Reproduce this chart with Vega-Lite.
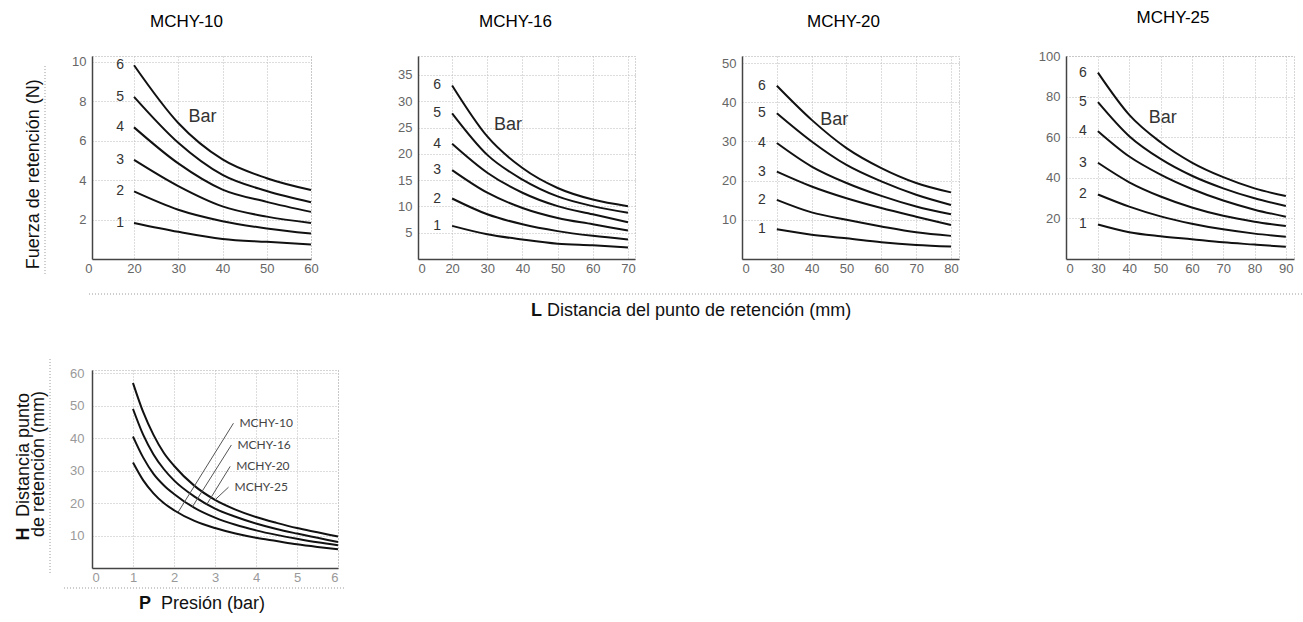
{
 "$schema": "https://vega.github.io/schema/vega-lite/v6.json",
 "background": "white",
 "padding": {"left": 14, "top": 8, "right": 0, "bottom": 0},
 "spacing": 36,
 "datasets": {
  "p10": [
   {"L":20,"F":9.83,"bar":6},{"L":30,"F":6.9,"bar":6},{"L":40,"F":5.05,"bar":6},{"L":50,"F":4.1,"bar":6},{"L":60,"F":3.5,"bar":6},
   {"L":20,"F":8.23,"bar":5},{"L":30,"F":5.9,"bar":5},{"L":40,"F":4.27,"bar":5},{"L":50,"F":3.45,"bar":5},{"L":60,"F":2.88,"bar":5},
   {"L":20,"F":6.68,"bar":4},{"L":30,"F":4.85,"bar":4},{"L":40,"F":3.52,"bar":4},{"L":50,"F":2.9,"bar":4},{"L":60,"F":2.39,"bar":4},
   {"L":20,"F":5.03,"bar":3},{"L":30,"F":3.7,"bar":3},{"L":40,"F":2.67,"bar":3},{"L":50,"F":2.15,"bar":3},{"L":60,"F":1.83,"bar":3},
   {"L":20,"F":3.43,"bar":2},{"L":30,"F":2.5,"bar":2},{"L":40,"F":1.92,"bar":2},{"L":50,"F":1.55,"bar":2},{"L":60,"F":1.29,"bar":2},
   {"L":20,"F":1.83,"bar":1},{"L":30,"F":1.38,"bar":1},{"L":40,"F":1.02,"bar":1},{"L":50,"F":0.87,"bar":1},{"L":60,"F":0.74,"bar":1}
  ],
  "p16": [
   {"L":20,"F":33.0,"bar":6},{"L":30,"F":23.3,"bar":6},{"L":40,"F":17.3,"bar":6},{"L":50,"F":13.5,"bar":6},{"L":60,"F":11.3,"bar":6},{"L":70,"F":10.05,"bar":6},
   {"L":20,"F":27.7,"bar":5},{"L":30,"F":19.8,"bar":5},{"L":40,"F":15.1,"bar":5},{"L":50,"F":11.9,"bar":5},{"L":60,"F":10.05,"bar":5},{"L":70,"F":8.8,"bar":5},
   {"L":20,"F":21.9,"bar":4},{"L":30,"F":16.4,"bar":4},{"L":40,"F":12.6,"bar":4},{"L":50,"F":10.05,"bar":4},{"L":60,"F":8.5,"bar":4},{"L":70,"F":7.0,"bar":4},
   {"L":20,"F":16.9,"bar":3},{"L":30,"F":12.6,"bar":3},{"L":40,"F":9.7,"bar":3},{"L":50,"F":7.8,"bar":3},{"L":60,"F":6.6,"bar":3},{"L":70,"F":5.4,"bar":3},
   {"L":20,"F":11.5,"bar":2},{"L":30,"F":8.5,"bar":2},{"L":40,"F":6.6,"bar":2},{"L":50,"F":5.3,"bar":2},{"L":60,"F":4.4,"bar":2},{"L":70,"F":3.7,"bar":2},
   {"L":20,"F":6.3,"bar":1},{"L":30,"F":4.7,"bar":1},{"L":40,"F":3.7,"bar":1},{"L":50,"F":2.9,"bar":1},{"L":60,"F":2.6,"bar":1},{"L":70,"F":2.2,"bar":1}
  ],
  "p20": [
   {"L":30,"F":44.2,"bar":6},{"L":40,"F":35.5,"bar":6},{"L":50,"F":28.3,"bar":6},{"L":60,"F":23.2,"bar":6},{"L":70,"F":19.4,"bar":6},{"L":80,"F":17.0,"bar":6},
   {"L":30,"F":37.2,"bar":5},{"L":40,"F":30.0,"bar":5},{"L":50,"F":24.0,"bar":5},{"L":60,"F":19.8,"bar":5},{"L":70,"F":16.4,"bar":5},{"L":80,"F":13.8,"bar":5},
   {"L":30,"F":29.6,"bar":4},{"L":40,"F":23.6,"bar":4},{"L":50,"F":19.4,"bar":4},{"L":60,"F":16.1,"bar":4},{"L":70,"F":13.4,"bar":4},{"L":80,"F":11.4,"bar":4},
   {"L":30,"F":22.3,"bar":3},{"L":40,"F":18.5,"bar":3},{"L":50,"F":15.5,"bar":3},{"L":60,"F":13.0,"bar":3},{"L":70,"F":10.8,"bar":3},{"L":80,"F":8.7,"bar":3},
   {"L":30,"F":15.1,"bar":2},{"L":40,"F":11.9,"bar":2},{"L":50,"F":10.0,"bar":2},{"L":60,"F":8.3,"bar":2},{"L":70,"F":6.8,"bar":2},{"L":80,"F":5.9,"bar":2},
   {"L":30,"F":7.6,"bar":1},{"L":40,"F":6.2,"bar":1},{"L":50,"F":5.3,"bar":1},{"L":60,"F":4.3,"bar":1},{"L":70,"F":3.6,"bar":1},{"L":80,"F":3.2,"bar":1}
  ],
  "p25": [
   {"L":30,"F":91.8,"bar":6},{"L":40,"F":71.0,"bar":6},{"L":50,"F":57.5,"bar":6},{"L":60,"F":47.5,"bar":6},{"L":70,"F":40.3,"bar":6},{"L":80,"F":34.8,"bar":6},{"L":90,"F":31.0,"bar":6},
   {"L":30,"F":77.3,"bar":5},{"L":40,"F":60.5,"bar":5},{"L":50,"F":49.3,"bar":5},{"L":60,"F":41.0,"bar":5},{"L":70,"F":34.8,"bar":5},{"L":80,"F":29.9,"bar":5},{"L":90,"F":26.1,"bar":5},
   {"L":30,"F":63.0,"bar":4},{"L":40,"F":50.5,"bar":4},{"L":50,"F":41.6,"bar":4},{"L":60,"F":34.5,"bar":4},{"L":70,"F":28.8,"bar":4},{"L":80,"F":24.3,"bar":4},{"L":90,"F":20.8,"bar":4},
   {"L":30,"F":47.4,"bar":3},{"L":40,"F":37.8,"bar":3},{"L":50,"F":30.8,"bar":3},{"L":60,"F":25.4,"bar":3},{"L":70,"F":21.3,"bar":3},{"L":80,"F":18.4,"bar":3},{"L":90,"F":16.2,"bar":3},
   {"L":30,"F":31.8,"bar":2},{"L":40,"F":25.8,"bar":2},{"L":50,"F":21.0,"bar":2},{"L":60,"F":17.4,"bar":2},{"L":70,"F":14.6,"bar":2},{"L":80,"F":12.5,"bar":2},{"L":90,"F":11.0,"bar":2},
   {"L":30,"F":17.0,"bar":1},{"L":40,"F":13.2,"bar":1},{"L":50,"F":11.2,"bar":1},{"L":60,"F":9.7,"bar":1},{"L":70,"F":8.2,"bar":1},{"L":80,"F":7.1,"bar":1},{"L":90,"F":6.0,"bar":1}
  ],
  "pres": [
   {"modelo":"MCHY-10","P":1,"H":32.5},{"modelo":"MCHY-10","P":1.25,"H":27},{"modelo":"MCHY-10","P":1.5,"H":23},{"modelo":"MCHY-10","P":1.75,"H":20},{"modelo":"MCHY-10","P":2,"H":17.8},{"modelo":"MCHY-10","P":2.5,"H":14.5},{"modelo":"MCHY-10","P":3,"H":12.3},{"modelo":"MCHY-10","P":3.5,"H":10.6},{"modelo":"MCHY-10","P":4,"H":9.3},{"modelo":"MCHY-10","P":4.5,"H":8.3},{"modelo":"MCHY-10","P":5,"H":7.3},{"modelo":"MCHY-10","P":5.5,"H":6.5},{"modelo":"MCHY-10","P":6,"H":5.8},
   {"modelo":"MCHY-16","P":1,"H":40.5},{"modelo":"MCHY-16","P":1.25,"H":34},{"modelo":"MCHY-16","P":1.5,"H":29},{"modelo":"MCHY-16","P":1.75,"H":25.5},{"modelo":"MCHY-16","P":2,"H":22.8},{"modelo":"MCHY-16","P":2.5,"H":18.5},{"modelo":"MCHY-16","P":3,"H":15.5},{"modelo":"MCHY-16","P":3.5,"H":13.3},{"modelo":"MCHY-16","P":4,"H":11.6},{"modelo":"MCHY-16","P":4.5,"H":10.2},{"modelo":"MCHY-16","P":5,"H":9},{"modelo":"MCHY-16","P":5.5,"H":7.9},{"modelo":"MCHY-16","P":6,"H":7},
   {"modelo":"MCHY-20","P":1,"H":49},{"modelo":"MCHY-20","P":1.25,"H":41},{"modelo":"MCHY-20","P":1.5,"H":35},{"modelo":"MCHY-20","P":1.75,"H":30.5},{"modelo":"MCHY-20","P":2,"H":27},{"modelo":"MCHY-20","P":2.5,"H":22},{"modelo":"MCHY-20","P":3,"H":18.3},{"modelo":"MCHY-20","P":3.5,"H":15.8},{"modelo":"MCHY-20","P":4,"H":13.7},{"modelo":"MCHY-20","P":4.5,"H":12},{"modelo":"MCHY-20","P":5,"H":10.6},{"modelo":"MCHY-20","P":5.5,"H":9.3},{"modelo":"MCHY-20","P":6,"H":8},
   {"modelo":"MCHY-25","P":1,"H":57},{"modelo":"MCHY-25","P":1.25,"H":48},{"modelo":"MCHY-25","P":1.5,"H":41},{"modelo":"MCHY-25","P":1.75,"H":35.5},{"modelo":"MCHY-25","P":2,"H":31.5},{"modelo":"MCHY-25","P":2.5,"H":25.3},{"modelo":"MCHY-25","P":3,"H":21},{"modelo":"MCHY-25","P":3.5,"H":18},{"modelo":"MCHY-25","P":4,"H":15.7},{"modelo":"MCHY-25","P":4.5,"H":13.9},{"modelo":"MCHY-25","P":5,"H":12.3},{"modelo":"MCHY-25","P":5.5,"H":11},{"modelo":"MCHY-25","P":6,"H":9.7}
  ],
  "leaders": [
   {"modelo":"MCHY-10","P":3.45,"H":44.6,"P2":2.1,"H2":17.2},
   {"modelo":"MCHY-16","P":3.4,"H":37.9,"P2":2.45,"H2":18.9},
   {"modelo":"MCHY-20","P":3.37,"H":31.3,"P2":2.8,"H2":19.6},
   {"modelo":"MCHY-25","P":3.33,"H":24.9,"P2":3.0,"H2":21.0}
  ]
 },
 "vconcat": [
  {
   "bounds": "flush",
   "spacing": 107,
   "hconcat": [
    {
     "width": 219, "height": 203,
     "title": {"text": "MCHY-10", "dx": -15, "offset": 25},
     "data": {"name": "p10"},
     "encoding": {
      "x": {"field": "L", "type": "quantitative", "scale": {"domain": [10.5, 60], "nice": false, "zero": false}, "axis": {"values": [10.5, 20, 30, 40, 50, 60], "labelExpr": "datum.value < 15 ? '0' : datum.label", "labelAlign": {"condition": {"test": "datum.value < 15", "value": "right"}, "value": "center"}, "title": null}},
      "y": {"field": "F", "type": "quantitative", "scale": {"domain": [0, 10.3], "nice": false}, "axis": {"values": [2, 4, 6, 8, 10], "title": null}}
     },
     "layer": [
      {"mark": {"type": "line", "interpolate": "monotone", "color": "#111", "strokeWidth": 2}, "encoding": {"detail": {"field": "bar", "type": "nominal"}}},
      {"transform": [{"filter": "datum.L == 20"}], "mark": {"type": "text", "dx": -14, "fontSize": 14, "color": "#333"}, "encoding": {"text": {"field": "bar", "type": "nominal"}}},
      {"transform": [{"filter": "datum.L == 20 && datum.bar == 6"}], "mark": {"type": "text", "fontSize": 18, "color": "#333"}, "encoding": {"x": {"datum": 35.5}, "y": {"datum": 7.2}, "text": {"value": "Bar"}}},
      {"transform": [{"filter": "datum.L == 20 && datum.bar == 6"}], "mark": {"type": "text", "fontSize": 18, "color": "#111", "angle": 270}, "encoding": {"x": {"datum": -2.61}, "y": {"datum": 4.3}, "text": {"value": "Fuerza de retención (N)"}}},
      {"transform": [{"filter": "datum.L == 20 && datum.bar == 6"}], "mark": {"type": "rule", "color": "#fff", "strokeOpacity": 0}, "encoding": {"x": {"datum": -6.9}, "y": {"datum": 4.5}, "y2": {"datum": 4.6}}},
      {"transform": [{"filter": "datum.L == 20 && datum.bar == 6"}], "mark": {"type": "rule", "strokeDash": [1, 2], "color": "#999"}, "encoding": {"x": {"datum": -0.12}, "y": {"datum": 9.79}, "y2": {"datum": -0.76}}},
      {"transform": [{"filter": "datum.L == 20 && datum.bar == 6"}], "mark": {"type": "rule", "strokeDash": [1, 2], "color": "#999"}, "encoding": {"x": {"datum": 9.82}, "x2": {"datum": 284.0}, "y": {"datum": -1.776}}},
      {"transform": [{"filter": "datum.L == 20 && datum.bar == 6"}], "mark": {"type": "text", "fontSize": 18, "fontWeight": "bold", "color": "#111", "align": "left"}, "encoding": {"x": {"datum": 109.73}, "y": {"datum": -2.64}, "text": {"value": "L"}}},
      {"transform": [{"filter": "datum.L == 20 && datum.bar == 6"}], "mark": {"type": "text", "fontSize": 18, "color": "#111", "align": "left"}, "encoding": {"x": {"datum": 113.34}, "y": {"datum": -2.64}, "text": {"value": "Distancia del punto de retención (mm)"}}}
     ]
    },
    {
     "width": 217, "height": 203,
     "title": {"text": "MCHY-16", "dx": -11, "offset": 25},
     "data": {"name": "p16"},
     "encoding": {
      "x": {"field": "L", "type": "quantitative", "scale": {"domain": [10.3, 72], "nice": false, "zero": false}, "axis": {"values": [10.3, 20, 30, 40, 50, 60, 70], "labelExpr": "datum.value < 15 ? '0' : datum.label", "title": null}},
      "y": {"field": "F", "type": "quantitative", "scale": {"domain": [0, 38.6], "nice": false}, "axis": {"values": [5, 10, 15, 20, 25, 30, 35], "title": null}}
     },
     "layer": [
      {"mark": {"type": "line", "interpolate": "monotone", "color": "#111", "strokeWidth": 2}, "encoding": {"detail": {"field": "bar", "type": "nominal"}}},
      {"transform": [{"filter": "datum.L == 20"}], "mark": {"type": "text", "dx": -15, "fontSize": 14, "color": "#333"}, "encoding": {"text": {"field": "bar", "type": "nominal"}}},
      {"transform": [{"filter": "datum.L == 20 && datum.bar == 6"}], "mark": {"type": "text", "fontSize": 18, "color": "#333"}, "encoding": {"x": {"datum": 35.9}, "y": {"datum": 25.5}, "text": {"value": "Bar"}}}
     ]
    },
    {
     "width": 217, "height": 203,
     "title": {"text": "MCHY-20", "dx": -7, "offset": 25},
     "data": {"name": "p20"},
     "encoding": {
      "x": {"field": "L", "type": "quantitative", "scale": {"domain": [20, 82.3], "nice": false, "zero": false}, "axis": {"values": [20, 30, 40, 50, 60, 70, 80], "labelExpr": "datum.value < 25 ? '0' : datum.label", "title": null}},
      "y": {"field": "F", "type": "quantitative", "scale": {"domain": [0, 51.8], "nice": false}, "axis": {"values": [10, 20, 30, 40, 50], "title": null}}
     },
     "layer": [
      {"mark": {"type": "line", "interpolate": "monotone", "color": "#111", "strokeWidth": 2}, "encoding": {"detail": {"field": "bar", "type": "nominal"}}},
      {"transform": [{"filter": "datum.L == 30"}], "mark": {"type": "text", "dx": -15, "fontSize": 14, "color": "#333"}, "encoding": {"text": {"field": "bar", "type": "nominal"}}},
      {"transform": [{"filter": "datum.L == 30 && datum.bar == 6"}], "mark": {"type": "text", "fontSize": 18, "color": "#333"}, "encoding": {"x": {"datum": 46.5}, "y": {"datum": 35.5}, "text": {"value": "Bar"}}}
     ]
    },
    {
     "width": 228, "height": 203,
     "title": {"text": "MCHY-25", "dx": -7, "offset": 23},
     "data": {"name": "p25"},
     "encoding": {
      "x": {"field": "L", "type": "quantitative", "scale": {"domain": [19.8, 92.6], "nice": false, "zero": false}, "axis": {"values": [19.8, 30, 40, 50, 60, 70, 80, 90], "labelExpr": "datum.value < 25 ? '0' : datum.label", "title": null}},
      "y": {"field": "F", "type": "quantitative", "scale": {"domain": [0, 100], "nice": false}, "axis": {"values": [20, 40, 60, 80, 100], "title": null}}
     },
     "layer": [
      {"mark": {"type": "line", "interpolate": "monotone", "color": "#111", "strokeWidth": 2}, "encoding": {"detail": {"field": "bar", "type": "nominal"}}},
      {"transform": [{"filter": "datum.L == 30"}], "mark": {"type": "text", "dx": -15, "fontSize": 14, "color": "#333"}, "encoding": {"text": {"field": "bar", "type": "nominal"}}},
      {"transform": [{"filter": "datum.L == 30 && datum.bar == 6"}], "mark": {"type": "text", "fontSize": 18, "color": "#333"}, "encoding": {"x": {"datum": 50.7}, "y": {"datum": 69.6}, "text": {"value": "Bar"}}}
     ]
    }
   ]
  },
  {
   "width": 246, "height": 198,
   "data": {"name": "pres"},
   "encoding": {
    "x": {"field": "P", "type": "quantitative", "scale": {"domain": [0, 6], "nice": false, "zero": false}, "axis": {"values": [0, 1, 2, 3, 4, 5, 6], "title": null, "labelColor": "#999"}},
    "y": {"field": "H", "type": "quantitative", "scale": {"domain": [0, 61], "nice": false}, "axis": {"values": [10, 20, 30, 40, 50, 60], "title": null, "labelColor": "#999", "labelPadding": 8}}
   },
   "layer": [
    {"mark": {"type": "line", "interpolate": "monotone", "color": "#111", "strokeWidth": 2}, "encoding": {"detail": {"field": "modelo", "type": "nominal"}}},
    {"data": {"name": "leaders"}, "mark": {"type": "rule", "color": "#555", "strokeWidth": 1}, "encoding": {"x2": {"field": "P2"}, "y2": {"field": "H2"}}},
    {"data": {"name": "leaders"}, "mark": {"type": "text", "align": "left", "dx": 6, "font": "Lato", "fontSize": 12, "color": "#444"}, "encoding": {"text": {"field": "modelo", "type": "nominal"}}},
    {"transform": [{"filter": "datum.P == 1 && datum.modelo == 'MCHY-10'"}], "mark": {"type": "text", "fontSize": 18, "color": "#111", "angle": 270}, "encoding": {"x": {"datum": -1.659}, "y": {"datum": 34.81}, "text": {"value": "Distancia punto"}}},
    {"transform": [{"filter": "datum.P == 1 && datum.modelo == 'MCHY-10'"}], "mark": {"type": "text", "fontSize": 18, "fontWeight": "bold", "color": "#111", "angle": 270}, "encoding": {"x": {"datum": -1.659}, "y": {"datum": 10.47}, "text": {"value": "H"}}},
    {"transform": [{"filter": "datum.P == 1 && datum.modelo == 'MCHY-10'"}], "mark": {"type": "text", "fontSize": 18, "color": "#111", "angle": 270}, "encoding": {"x": {"datum": -1.293}, "y": {"datum": 32.04}, "text": {"value": "de retención (mm)"}}},
    {"transform": [{"filter": "datum.P == 1 && datum.modelo == 'MCHY-10'"}], "mark": {"type": "rule", "strokeDash": [1, 2], "color": "#999"}, "encoding": {"x": {"datum": -1.024}, "y": {"datum": 64.39}, "y2": {"datum": -2.157}}},
    {"transform": [{"filter": "datum.P == 1 && datum.modelo == 'MCHY-10'"}], "mark": {"type": "rule", "strokeDash": [1, 2], "color": "#999"}, "encoding": {"x": {"datum": -0.683}, "x2": {"datum": 6.146}, "y": {"datum": -6.16}}},
    {"transform": [{"filter": "datum.P == 1 && datum.modelo == 'MCHY-10'"}], "mark": {"type": "text", "fontSize": 18, "fontWeight": "bold", "color": "#111", "align": "left"}, "encoding": {"x": {"datum": 1.146}, "y": {"datum": -11.09}, "text": {"value": "P"}}},
    {"transform": [{"filter": "datum.P == 1 && datum.modelo == 'MCHY-10'"}], "mark": {"type": "text", "fontSize": 18, "color": "#111", "align": "left"}, "encoding": {"x": {"datum": 1.683}, "y": {"datum": -11.09}, "text": {"value": "Presión (bar)"}}}
   ]
  }
 ],
 "config": {
  "font": "Liberation Sans",
  "view": {"stroke": "#aaa", "strokeDash": [1, 2], "strokeWidth": 1},
  "axis": {"grid": true, "gridColor": "#bbb", "gridDash": [1, 2], "gridWidth": 1, "ticks": false, "domainColor": "#444", "domainWidth": 1.5, "labelColor": "#666", "labelFontSize": 13, "labelFont": "Liberation Sans"},
  "axisX": {"labelPadding": 3},
  "axisY": {"labelPadding": 6},
  "style": {"group-title": {"fontSize": 17, "fontWeight": 400, "color": "#000", "font": "Liberation Sans"}},
  "title": {"fontSize": 17, "fontWeight": 400, "color": "#000", "anchor": "middle", "frame": "group", "baseline": "middle", "font": "Liberation Sans"}
 }
}
